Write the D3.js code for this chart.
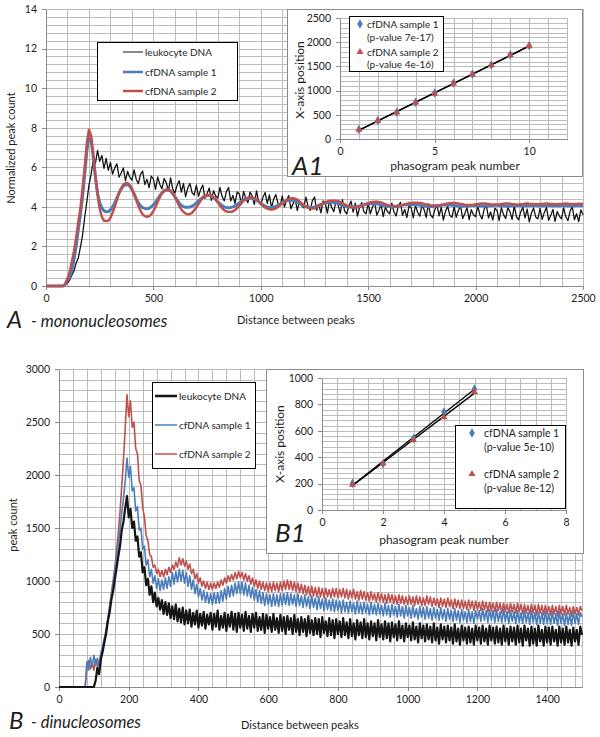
<!DOCTYPE html>
<html><head><meta charset="utf-8">
<script src="https://cdn.jsdelivr.net/npm/d3@7"></script>
<style>
body{margin:0;background:#fff}
svg{display:block}
text{font-family:Lato,"Open Sans",sans-serif;fill:#1e1e1e}
.grid line{stroke:#bcbcbc;shape-rendering:crispEdges}
.axis .domain,.axis line{stroke:#8a8a8a;shape-rendering:crispEdges}
.axis text{font-size:10.5px;fill:#222}
</style>
</head><body><svg id="c" width="600" height="737"></svg>
<script>
// ---------------- Panel A (mononucleosomes), x step 10 ----------------
const stepA = 10;
const leukA = [
0,0,0,0,0,0,0,0,0,0.05,
0.15,0.3,0.55,0.75,1.15,1.4,1.95,2.55,3.45,4.25,
5.1,5.65,6.35,6.2,6.85,6.3,6.6,5.95,6.45,5.85,
6.25,5.66,5.97,6.18,5.5,5.71,5.97,5.33,5.79,5.5,
5.35,5.87,5.4,5.17,5.64,5.81,5.13,5.4,4.97,5.55,
5.4,4.88,5.51,5.13,4.91,5.44,5.22,4.8,5.47,4.9,
4.7,5.08,5.32,4.75,5.18,4.52,4.95,5.18,4.72,4.6,
5.1,4.53,4.87,5.1,4.43,4.67,4.95,4.33,4.82,4.55,
4.45,4.98,4.52,4.3,4.78,4.97,4.3,4.58,4.17,4.75,
4.65,4.14,4.78,4.42,4.21,4.75,4.54,4.12,4.81,4.25,
4.1,4.49,4.73,4.17,4.61,3.95,4.39,4.62,4.16,4.05,
4.55,3.99,4.33,4.57,3.91,4.15,4.4,3.81,4.3,4.05,
3.95,4.49,4.03,3.82,4.31,4.5,3.83,4.12,3.7,4.3,
4.2,3.69,4.33,3.97,3.76,4.3,4.09,3.67,4.36,3.8,
3.65,4.04,4.29,3.74,4.19,3.53,3.98,4.22,3.75,3.65,
4.2,3.65,3.99,4.24,3.58,3.83,4.12,3.51,3.99,3.75,
3.65,4.19,3.74,3.54,4.04,4.23,3.57,3.87,3.46,4.05,
3.95,3.44,4.09,3.73,3.53,4.07,3.87,3.46,4.16,3.6,
3.45,3.85,4.1,3.54,3.99,3.33,3.78,4.03,3.57,3.47,
4.02,3.47,3.82,4.06,3.41,3.66,3.96,3.35,3.86,3.6,
3.5,4.05,3.6,3.39,3.89,4.09,3.44,3.74,3.33,3.93,
3.81,3.31,3.96,3.61,3.41,3.96,3.76,3.36,4.06,3.51,
3.34,3.74,3.99,3.44,3.89,3.24,3.69,3.94,3.49,3.39,
3.92,3.37,3.72,3.97,3.32,3.57,3.87,3.27,3.77,3.52,
3.4,3.95,3.5,3.3,3.8,4.0,3.35,3.65,3.25,3.85,
3.6];
const cf1A = [
0,0,0,0,0,0,0,0,0,0.1,
0.35,0.45,0.8,1.3,2.0,2.8,3.6,4.5,5.6,6.8,
7.6,7.4,6.5,5.5,4.7,4.2,3.95,3.8,3.75,3.76,
3.85,4.0,4.2,4.45,4.7,4.9,5.05,5.12,5.12,5.05,
4.88,4.66,4.42,4.2,4.05,3.96,3.92,3.91,3.93,4.0,
4.1,4.24,4.4,4.56,4.7,4.8,4.85,4.85,4.8,4.68,
4.52,4.36,4.2,4.08,4.01,3.98,3.98,3.99,4.03,4.1,
4.2,4.3,4.4,4.48,4.54,4.57,4.57,4.54,4.47,4.37,
4.26,4.15,4.06,4.0,3.97,3.96,3.97,4.0,4.05,4.12,
4.2,4.28,4.35,4.4,4.43,4.44,4.43,4.4,4.34,4.26,
4.18,4.1,4.03,3.99,3.97,3.97,3.99,4.03,4.08,4.14,
4.2,4.26,4.3,4.33,4.34,4.33,4.3,4.25,4.18,4.11,
4.05,4.0,3.98,3.97,3.97,3.99,4.02,4.07,4.12,4.17,
4.2,4.22,4.23,4.23,4.22,4.2,4.17,4.13,4.09,4.05,
4.02,4.0,3.99,3.99,4.0,4.02,4.05,4.08,4.11,4.14,
4.16,4.17,4.17,4.16,4.15,4.13,4.1,4.07,4.05,4.03,
4.02,4.01,4.01,4.02,4.04,4.06,4.08,4.1,4.11,4.12,
4.12,4.12,4.11,4.1,4.08,4.06,4.04,4.03,4.02,4.02,
4.02,4.03,4.04,4.06,4.08,4.09,4.1,4.1,4.09,4.08,
4.06,4.05,4.04,4.03,4.03,4.04,4.05,4.06,4.07,4.07,
4.07,4.06,4.05,4.04,4.04,4.04,4.05,4.06,4.07,4.08,
4.08,4.07,4.06,4.05,4.04,4.04,4.05,4.06,4.07,4.07,
4.07,4.06,4.05,4.05,4.05,4.06,4.07,4.08,4.07,4.06,
4.05,4.05,4.06,4.07,4.08,4.07,4.06,4.05,4.05,4.06,
4.07,4.08,4.07,4.06,4.05,4.05,4.06,4.07,4.08,4.07,
4.06];
const cf2A = [
0,0,0,0,0,0,0,0,0,0.1,
0.35,0.7,1.2,1.75,2.4,3.2,3.9,4.9,6.0,7.2,
7.9,7.6,6.7,5.6,4.6,3.9,3.5,3.3,3.28,3.3,
3.45,3.7,4.0,4.35,4.7,4.95,5.12,5.2,5.2,5.1,
4.9,4.65,4.35,4.05,3.8,3.62,3.53,3.5,3.52,3.62,
3.8,4.0,4.25,4.5,4.7,4.83,4.88,4.88,4.82,4.68,
4.5,4.28,4.05,3.87,3.74,3.66,3.63,3.64,3.7,3.82,
3.98,4.15,4.32,4.47,4.56,4.6,4.6,4.58,4.5,4.37,
4.22,4.06,3.93,3.83,3.77,3.75,3.75,3.77,3.84,3.94,
4.06,4.19,4.31,4.4,4.46,4.48,4.48,4.45,4.38,4.28,
4.17,4.06,3.97,3.91,3.88,3.87,3.88,3.93,4.0,4.09,
4.18,4.27,4.35,4.4,4.43,4.43,4.41,4.36,4.28,4.18,
4.09,4.01,3.96,3.93,3.92,3.93,3.97,4.03,4.1,4.17,
4.23,4.27,4.3,4.31,4.31,4.31,4.29,4.25,4.19,4.13,
4.07,4.02,3.99,3.97,3.97,3.97,3.99,4.03,4.08,4.14,
4.19,4.23,4.25,4.26,4.26,4.25,4.22,4.18,4.13,4.09,
4.06,4.04,4.04,4.04,4.05,4.07,4.1,4.13,4.16,4.19,
4.2,4.21,4.21,4.21,4.2,4.18,4.15,4.12,4.1,4.08,
4.07,4.07,4.07,4.08,4.1,4.12,4.15,4.17,4.18,4.19,
4.19,4.18,4.17,4.15,4.13,4.11,4.1,4.1,4.1,4.11,
4.13,4.15,4.16,4.17,4.17,4.16,4.15,4.13,4.12,4.12,
4.12,4.13,4.15,4.16,4.17,4.17,4.16,4.14,4.13,4.12,
4.12,4.13,4.14,4.16,4.17,4.16,4.15,4.14,4.13,4.13,
4.14,4.15,4.16,4.17,4.16,4.15,4.14,4.13,4.13,4.14,
4.15,4.16,4.17,4.16,4.15,4.14,4.14,4.15,4.16,4.16,
4.15];
const xTicksA = [0,500,1000,1500,2000,2500];
const yTicksA = [0,2,4,6,8,10,12,14];

// ---------------- Panel B (dinucleosomes), x step 5 ----------------
const stepB = 5;
const leukB = [
0,0,0,0,0,0,0,0,0,0,0,0,0,0,0,0,0,0,0,0,
0,60,180,120,260,330,420,500,620,700,820,900,1010,1120,1230,1330,1480,1560,1690,1800,
1600,1680,1500,1560,1380,1420,1230,1270,1080,1130,960,1020,870,950,800,890,760,840,730,820,
690,800,680,790,650,760,640,780,620,740,610,750,590,720,600,730,570,700,590,720,
560,690,580,710,550,680,590,700,540,690,570,720,540,670,560,700,530,680,570,710,
540,690,520,700,560,680,530,710,550,670,520,690,560,700,530,660,540,690,510,680,
550,660,520,690,540,650,510,680,530,660,500,670,540,650,500,680,520,640,490,660,
520,640,480,670,510,630,490,650,500,640,470,660,510,620,480,650,490,630,460,640,
500,620,470,650,490,610,460,640,480,600,450,630,490,610,460,640,470,600,450,620,
480,600,440,630,470,590,450,620,460,600,430,610,470,590,440,620,460,580,430,600,
470,580,440,610,450,570,420,600,460,580,430,590,450,570,420,600,440,560,410,590,
450,570,420,580,440,560,410,590,430,550,400,580,440,560,410,570,420,550,400,580,
440,560,410,580,430,550,400,580,440,560,410,570,420,550,400,580,430,550,400,570,
430,560,400,580,420,550,390,580,440,550,390,570,410,550,390,580,430,540,390,570,
420,560,400,570,430,540,390,570,420,550,400,570,420,540,390,560,430,540,400,570,
490];
const cf1B = [
0,0,0,0,0,0,0,0,0,0,0,0,0,0,0,0,240,160,280,190,
300,210,270,190,320,380,460,540,650,740,870,960,1100,1200,1340,1480,1640,1780,1950,2160,
1980,2080,1850,1880,1660,1700,1480,1500,1300,1330,1150,1200,1040,1110,980,1050,930,1020,910,1010,
920,1030,930,1040,950,1080,970,1090,990,1110,1000,1100,980,1080,950,1050,920,1010,880,970,
850,930,820,910,800,890,790,880,780,890,790,890,790,910,810,930,830,950,850,960,
860,980,880,990,880,990,870,980,860,960,840,940,820,920,800,910,790,890,770,880,
780,870,760,880,770,870,760,880,770,880,780,890,770,880,780,870,760,880,770,860,
750,870,760,850,740,860,750,840,730,850,740,830,720,840,730,820,720,830,710,820,
720,810,700,820,710,800,700,810,710,790,690,810,700,790,690,800,700,780,680,800,
690,780,680,790,690,770,670,790,680,770,660,780,680,760,660,780,670,760,650,770,
670,750,650,770,660,740,640,760,660,750,640,760,650,740,630,750,650,730,630,750,
640,730,620,740,640,720,620,740,630,720,610,730,630,710,610,730,620,710,600,720,
640,720,620,740,630,720,610,730,630,720,610,730,620,710,610,730,620,710,600,720,
620,710,600,720,610,700,600,720,610,700,590,720,610,700,590,710,600,700,590,710,
600,690,590,710,600,690,580,710,600,690,580,700,590,690,580,710,600,690,590,700,
660];
const cf2B = [
0,0,0,0,0,0,0,0,0,0,0,0,0,0,0,0,180,250,170,230,
160,260,200,240,300,360,430,520,630,760,880,1000,1120,1280,1450,1650,1900,2150,2450,2760,
2550,2700,2450,2500,2250,2200,1950,1900,1700,1600,1430,1380,1250,1230,1130,1150,1070,1110,1040,1100,
1040,1110,1060,1130,1080,1150,1110,1180,1130,1220,1150,1210,1140,1190,1110,1160,1070,1110,1020,1070,
980,1030,950,1000,930,990,920,980,920,980,930,990,940,1010,960,1030,980,1050,1000,1060,
1010,1080,1020,1090,1030,1080,1010,1070,1000,1050,970,1030,950,1010,930,1000,920,990,910,980,
900,980,900,990,910,980,900,990,910,1000,920,1010,920,1000,910,990,900,980,890,970,
880,960,870,950,860,950,860,940,850,940,850,930,840,930,850,920,840,930,850,930,
840,920,850,930,840,920,830,910,840,920,830,900,820,910,830,900,820,890,810,900,
820,880,800,890,810,880,800,870,790,880,800,870,790,860,780,870,790,860,780,850,
780,860,780,850,770,860,780,850,770,840,770,860,780,850,760,840,770,830,750,840,
760,830,750,840,760,820,740,830,750,820,740,820,740,810,730,820,740,810,720,810,
730,800,720,810,730,800,710,800,720,790,710,800,720,790,700,790,710,780,700,790,
710,780,700,790,710,780,690,780,700,770,690,780,700,770,680,780,700,770,680,770,
690,760,680,770,690,760,670,770,690,760,680,770,690,750,670,760,690,750,680,760,
720];
const xTicksB = [0,200,400,600,800,1000,1200,1400];
const yTicksB = [0,500,1000,1500,2000,2500,3000];

// ---------------- Insets ----------------
const peakNumA1 = [1,2,3,4,5,6,7,8,9,10];
const a1Sample1 = [195,380,555,760,950,1155,1340,1530,1740,1925];
const a1Sample2 = [190,375,550,755,935,1150,1335,1525,1735,1920];
const peakNumB1 = [1,2,3,4,5];
const b1Sample1 = [203,350,542,742,916];
const b1Sample2 = [192,352,529,704,894];

const seriesNames = ["leukocyte DNA","cfDNA sample 1","cfDNA sample 2"];
const insetNamesA1 = ["cfDNA sample 1","(p-value 7e-17)","cfDNA sample 2","(p-value 4e-16)"];
const insetNamesB1 = ["cfDNA sample 1","(p-value 5e-10)","cfDNA sample 2","(p-value 8e-12)"];

const C_BLACK = "#151515", C_BLUE = "#4a7ebb", C_RED = "#c0504d";
const svg = d3.select("#c");
const fmt = d3.format("d");

function panel(cfg){
  const g = svg.append("g").attr("transform",`translate(${cfg.left},${cfg.top})`);
  const w = cfg.right-cfg.left, h = cfg.bottom-cfg.top;
  const x = d3.scaleLinear().domain(cfg.xDomain).range([0,w]);
  const y = d3.scaleLinear().domain(cfg.yDomain).range([h,0]);
  g.append("g").attr("class","grid").attr("transform",`translate(0,${h})`)
    .call(d3.axisBottom(x).tickValues(cfg.xGrid).tickSize(-h).tickFormat(""))
    .call(s=>s.select(".domain").remove());
  g.append("g").attr("class","grid")
    .call(d3.axisLeft(y).tickValues(cfg.yGrid).tickSize(-w).tickFormat(""))
    .call(s=>s.select(".domain").remove());
  g.append("g").attr("class","axis").attr("transform",`translate(0,${h})`)
    .call(d3.axisBottom(x).tickValues(cfg.xTicks).tickSize(4).tickSizeOuter(0).tickPadding(5).tickFormat(fmt));
  g.append("g").attr("class","axis")
    .call(d3.axisLeft(y).tickValues(cfg.yTicks).tickSize(4).tickSizeOuter(0).tickPadding(5).tickFormat(fmt));
  return {g,x,y,w,h};
}
function drawSeries(p, vals, step, color, width){
  const line = d3.line().x((d,i)=>p.x(i*step)).y(d=>p.y(d));
  p.g.append("path").datum(vals).attr("d",line).attr("fill","none")
    .attr("stroke",color).attr("stroke-width",width).attr("stroke-linejoin","round");
}
function legend(x0,y0,w,h,rows,lineX1,lineX2,textX,fs){
  svg.append("rect").attr("x",x0+0.5).attr("y",y0+0.5).attr("width",w).attr("height",h)
    .attr("fill","#fff").attr("stroke","#000").attr("stroke-width",1);
  rows.forEach(r=>{
    svg.append("line").attr("x1",lineX1).attr("x2",lineX2).attr("y1",r.y).attr("y2",r.y)
      .attr("stroke",r.color).attr("stroke-width",r.width);
    svg.append("text").attr("x",textX).attr("y",r.y).attr("dy","0.35em")
      .attr("font-size",fs).text(r.label);
  });
}
function rotTitle(x,y,label,size){
  svg.append("text").attr("transform",`translate(${x},${y}) rotate(-90)`)
    .attr("text-anchor","middle").attr("dy","0.35em").attr("font-size",size).text(label);
}
function centerTitle(x,y,label,size){
  svg.append("text").attr("x",x).attr("y",y).attr("text-anchor","middle")
    .attr("dy","0.35em").attr("font-size",size).text(label);
}

// ===== Panel A =====
const pA = panel({left:46,right:583,top:9,bottom:286,xDomain:[0,2500],yDomain:[0,14],
  xGrid:d3.range(0,2501,100), yGrid:d3.range(0,14.01,0.4).concat([14]), xTicks:xTicksA, yTicks:yTicksA});
drawSeries(pA, leukA, stepA, C_BLACK, 1.3);
drawSeries(pA, cf1A, stepA, C_BLUE, 3);
drawSeries(pA, cf2A, stepA, C_RED, 2.5);
rotTitle(11,148,"Normalized peak count","11px");
centerTitle(296,320,"Distance between peaks","11px");
svg.append("text").attr("x",7).attr("y",328).attr("font-size","24px").attr("font-style","italic").text("A");
svg.append("text").attr("x",31).attr("y",327).attr("font-size","16.5px").attr("font-style","italic").text("- mononucleosomes");
legend(97,42,140,58,[
  {y:52,color:C_BLACK,width:1,label:seriesNames[0]},
  {y:72,color:C_BLUE,width:2.5,label:seriesNames[1]},
  {y:91,color:C_RED,width:2.5,label:seriesNames[2]}],123,143,145,"10px");

// ===== Panel B =====
const pB = panel({left:59,right:582,top:369,bottom:687,xDomain:[0,1500],yDomain:[0,3000],
  xGrid:d3.range(0,1500,40).concat([1500]), yGrid:d3.range(0,3001,100), xTicks:xTicksB, yTicks:yTicksB});
drawSeries(pB, cf2B, stepB, C_RED, 1.6);
drawSeries(pB, cf1B, stepB, C_BLUE, 1.6);
drawSeries(pB, leukB, stepB, C_BLACK, 2.2);
rotTitle(13,525,"peak count","11px");
centerTitle(300,725,"Distance between peaks","11px");
svg.append("text").attr("x",9).attr("y",729).attr("font-size","24px").attr("font-style","italic").text("B");
svg.append("text").attr("x",31).attr("y",728).attr("font-size","16.5px").attr("font-style","italic").text("- dinucleosomes");
legend(152,382,103,86,[
  {y:396,color:C_BLACK,width:2.5,label:seriesNames[0]},
  {y:425,color:C_BLUE,width:1.5,label:seriesNames[1]},
  {y:454,color:C_RED,width:1.5,label:seriesNames[2]}],155,177,179,"10px");

// ===== Insets =====
function regress(xs,ys){
  const mx=d3.mean(xs), my=d3.mean(ys);
  const b=d3.sum(xs,(v,i)=>(v-mx)*(ys[i]-my))/d3.sum(xs,v=>(v-mx)*(v-mx));
  return {a:my-b*mx,b};
}
function inset(cfg){
  svg.append("rect").attr("x",cfg.box[0]+0.5).attr("y",cfg.box[1]+0.5)
    .attr("width",cfg.box[2]-cfg.box[0]).attr("height",cfg.box[3]-cfg.box[1])
    .attr("fill","#fff").attr("stroke","#8c8c8c").attr("stroke-width",1);
  const p = panel(cfg);
  [cfg.s1,cfg.s2].forEach(s=>{
    const r = regress(cfg.xs,s);
    const x1=d3.min(cfg.xs), x2=d3.max(cfg.xs);
    p.g.append("line").attr("x1",p.x(x1)).attr("x2",p.x(x2))
      .attr("y1",p.y(r.a+r.b*x1)).attr("y2",p.y(r.a+r.b*x2))
      .attr("stroke","#000").attr("stroke-width",1.3);
  });
  p.g.selectAll(null).data(cfg.xs).join("path")
    .attr("transform",(d,i)=>`translate(${p.x(d)},${p.y(cfg.s1[i])})`)
    .attr("d",d3.symbol(d3.symbolDiamond,26)).attr("fill",C_BLUE);
  p.g.selectAll(null).data(cfg.xs).join("path")
    .attr("transform",(d,i)=>`translate(${p.x(d)},${p.y(cfg.s2[i])})`)
    .attr("d",d3.symbol(d3.symbolTriangle,22)).attr("fill",C_RED);
  return p;
}
inset({box:[287,9,582,176],left:340,right:567,top:18,bottom:139,xDomain:[0,12],yDomain:[0,2500],
  xGrid:d3.range(0,12.01,1),yGrid:d3.range(0,2501,100),xTicks:[0,5,10],yTicks:[0,500,1000,1500,2000,2500],
  xs:peakNumA1,s1:a1Sample1,s2:a1Sample2});
rotTitle(300,80,"X-axis position","12px");
centerTitle(455,166,"phasogram peak number","12px");
svg.append("text").attr("x",292).attr("y",175).attr("font-size","26px").attr("font-style","italic").text("A1");
// A1 legend
svg.append("rect").attr("x",349.5).attr("y",16.5).attr("width",94).attr("height",55).attr("fill","#fff").attr("stroke","#000");
svg.append("path").attr("transform","translate(360,24)").attr("d",d3.symbol(d3.symbolDiamond,26)).attr("fill",C_BLUE);
svg.append("path").attr("transform","translate(360,52)").attr("d",d3.symbol(d3.symbolTriangle,22)).attr("fill",C_RED);
[[24,0],[37.5,1],[52,2],[64.5,3]].forEach(([yy,k])=>{
  svg.append("text").attr("x",367).attr("y",yy).attr("dy","0.35em").attr("font-size","10px").text(insetNamesA1[k]);
});

inset({box:[266,369,583,553],left:322,right:566,top:378,bottom:510,xDomain:[0,8],yDomain:[0,1000],
  xGrid:d3.range(0,8.01,0.5),yGrid:d3.range(0,1001,40),xTicks:[0,2,4,6,8],yTicks:[0,200,400,600,800,1000],
  xs:peakNumB1,s1:b1Sample1,s2:b1Sample2});
rotTitle(280,444,"X-axis position","12px");
centerTitle(444,540,"phasogram peak number","12px");
svg.append("text").attr("x",275).attr("y",542).attr("font-size","26px").attr("font-style","italic").text("B1");
// B1 legend
svg.append("rect").attr("x",455.5).attr("y",425.5).attr("width",110).attr("height",83).attr("fill","#fff").attr("stroke","#000");
svg.append("path").attr("transform","translate(472,433)").attr("d",d3.symbol(d3.symbolDiamond,26)).attr("fill",C_BLUE);
svg.append("path").attr("transform","translate(472,474)").attr("d",d3.symbol(d3.symbolTriangle,22)).attr("fill",C_RED);
[[433,0],[447,1],[474,2],[488,3]].forEach(([yy,k])=>{
  svg.append("text").attr("x",484).attr("y",yy).attr("dy","0.35em").attr("font-size","10.5px").text(insetNamesB1[k]);
});
</script>
</body></html>
